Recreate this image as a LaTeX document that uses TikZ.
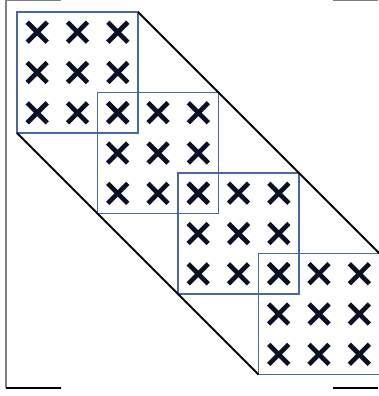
\documentclass[tikz,border=0pt]{standalone}
\usetikzlibrary{positioning}
\definecolor{blkblue}{RGB}{72,104,165}
\definecolor{xnavy}{RGB}{10,16,35}

\begin{document}
\begin{tikzpicture}[x=1pt, y=-1pt,
    block/.style={rectangle, draw=blkblue, line width=1.8pt, minimum size=121pt, inner sep=0pt, outer sep=0pt},
    cross/.style={xnavy, line width=4.6pt}]
    \useasboundingbox (0,0) rectangle (378,396);
    % matrix brackets
    \coordinate (tl) at (6,0.5);
    \coordinate (bl) at (6,388);
    \draw[gray, line width=1.6pt] ([xshift=55pt]tl) -- (tl) -- (bl);
    \draw[line width=2pt] (bl) -- ++(55,0);
    \coordinate (tr) at (333,0.5);
    \coordinate (br) at (333,388);
    \draw[gray, line width=1.6pt] (tr) -- ++(45,0);
    \draw[line width=2pt] (br) -- ++(45,0);

    % diagonal blocks
    \node[block, anchor=north west] (blk1) at (17,12) {};
    \node[block, below right=-40.5pt and -40.5pt of blk1] (blk2) {};
    \node[block, below right=-40.5pt and -40.5pt of blk2] (blk3) {};
    \node[block, below right=-40.5pt and -40.5pt of blk3] (blk4) {};

    % band edges
    \draw[line width=1.9pt] (blk1.north east) -- (blk4.north east);
    \draw[line width=1.9pt] (blk1.south west) -- (blk4.south west);

    % crosses
    \foreach \b in {1,...,4}
      \foreach \i in {0,1,2}
        \foreach \j in {0,1,2} {
          \draw[cross] ([shift={(20.2+40.3*\i-10, 20.2+40.3*\j-10)}]blk\b.north west) -- ++(20,20);
          \draw[cross] ([shift={(20.2+40.3*\i+10, 20.2+40.3*\j-10)}]blk\b.north west) -- ++(-20,20);
        }
\end{tikzpicture}
\end{document}
